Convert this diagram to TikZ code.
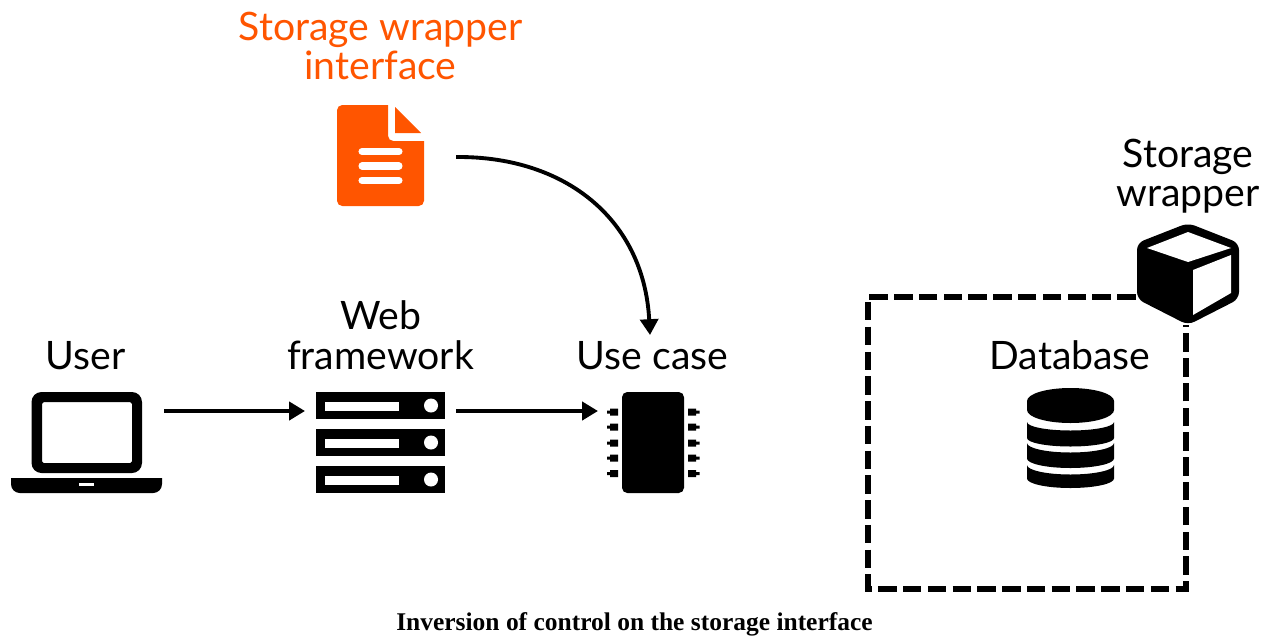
\documentclass[tikz,border=0pt]{standalone}
\usepackage{fontspec}
\setmainfont{Lato}
\newfontfamily\captionfont{Liberation Serif}
\usetikzlibrary{positioning,arrows.meta,calc}
\definecolor{docorange}{HTML}{FF5500}

\begin{document}
\begin{tikzpicture}[
    x=0.02cm, y=-0.02cm,
    label/.style={align=center, inner sep=0pt, font=\fontsize{22.3pt}{22.5pt}\selectfont},
    icon/.style={inner sep=0pt, outer sep=0pt},
    flow/.style={line width=2.2pt, -{Triangle[length=9pt,width=10.2pt]}},
    boundary/.style={line width=3.9pt, miter limit=10, dash pattern=on 10.5pt off 3.6pt, dash phase=12.7pt},
    rackbar/.style={icon, fill=black, minimum width=129*0.02cm, minimum height=27*0.02cm},
]
\useasboundingbox (0,0) rectangle (1270,636);

% dashed box round the database
\coordinate (boxstart) at (1138,297);
\coordinate (boxnw) at (868,297);
\coordinate (boxsw) at (868,589);
\coordinate (boxse) at (1186,589);
\coordinate (boxend) at (1186,325);
\draw[boundary] (boxstart) -- (boxnw) -- (boxsw) -- (boxse) -- (boxend);

% laptop
\node[icon, minimum width=151*0.02cm, minimum height=101*0.02cm] (laptop) at (86.5,442.5) {};
\fill[even odd rule] [rounded corners=5.7pt] (31.5,392) rectangle (142,473)
    [rounded corners=1pt] (42,402) rectangle (132,463);
\fill (11,478) -- (162,478) -- (162,484) [rounded corners=5pt] -- (162,493) -- (11,493) [sharp corners] -- (11,478) -- cycle;
\fill[white] (79,483) rectangle (94,486);

% server rack
\node[rackbar] (rack1) at (380.5,405.5) {};
\node[rackbar] (rack2) at (380.5,442.5) {};
\node[rackbar] (rack3) at (380.5,479.5) {};
\foreach \r in {rack1,rack2,rack3} {
    \fill[white] ($(\r.west)+(9,-4)$) rectangle ($(\r.west)+(83,5.5)$);
    \fill[white] ($(\r.east)+(-14,0)$) circle (7*0.02cm);
}

% chip
\node[icon, fill=black, rounded corners=3pt, minimum width=62*0.02cm, minimum height=101*0.02cm] (chip) at (653,442.5) {};
\foreach \y in {412,427,443,458,473.5} {
    \fill (618,\y-3.5) -- (610,\y-3.5) -- (610,\y-1.5) -- (607,\y-1.5) -- (607,\y+1.5) -- (610,\y+1.5) -- (610,\y+3.5) -- (618,\y+3.5) -- cycle;
    \fill (688,\y-3.5) -- (696,\y-3.5) -- (696,\y-1.5) -- (699.5,\y-1.5) -- (699.5,\y+1.5) -- (696,\y+1.5) -- (696,\y+3.5) -- (688,\y+3.5) -- cycle;
}

% document
\node[icon, minimum width=87*0.02cm, minimum height=101*0.02cm] (doc) at (380.5,155.5) {};
\fill[docorange] [rounded corners=3pt] (337,105) [sharp corners] -- (388,105) [rounded corners=3pt] -- (388,141) [sharp corners] -- (424,141) [rounded corners=3pt] -- (424,206) -- (337,206) -- cycle;
\fill[docorange] (395,107) -- (421,133) -- (395,133) -- cycle;
\foreach \y in {151.5,166,180.5}
    \draw[white, line width=4pt, line cap=round] (362,\y) -- (399,\y);

% cube
\node[icon, minimum width=100*0.02cm, minimum height=100*0.02cm] (cube) at (1188,274) {};
\fill[rounded corners=4pt] (1188,223) -- (1239,243) -- (1239,299) -- (1188,325) -- (1137,299) -- (1137,243) -- cycle;
\fill[white] (1147,248) -- (1188,232) -- (1231,248) -- (1188,262) -- cycle;
\fill[white] (1193,270) -- (1231,255) -- (1231,293) -- (1193,315) -- cycle;

% database
\node[icon, minimum width=87*0.02cm, minimum height=102*0.02cm] (db) at (1070.5,438) {};
\foreach \t/\b/\d in {422/438/8.5,443/458.5/9.5,465/478.5/9.5} {
    \fill (1027,\t) -- (1027,\b) arc[start angle=180, end angle=0, x radius=43.5, y radius=\d] -- (1114,\t) arc[start angle=0, end angle=180, x radius=43.5, y radius=\d] -- cycle;
}
\fill (1027,401) -- (1027,410) arc[start angle=180, end angle=0, x radius=43.5, y radius=13] -- (1114,401) arc[start angle=0, end angle=-180, x radius=43.5, y radius=13] -- cycle;

% labels
\node[label, text=docorange, anchor=south] (doclabel) at (380.5,80.5) {Storage wrapper\\interface};
\node[label, anchor=south] (userlabel) at (85.5,370) {User};
\node[label, anchor=south] (weblabel) at (380.5,370) {Web\\framework};
\node[label, anchor=south] (caselabel) at (652.5,370) {Use case};
\node[label, anchor=south] (dblabel) at (1070,370) {Database};
\node[label, anchor=south] (cubelabel) at (1188,214) {Storage\\wrapper};
\node[inner sep=0pt, font=\captionfont\bfseries\fontsize{14.5pt}{14.5pt}\selectfont] (caption) at (634.5,624) {Inversion of control on the storage interface};

% connectors
\coordinate (laptopout) at (164,411);
\coordinate (rackin) at (305,411);
\coordinate (rackout) at (456,411);
\coordinate (chipin) at (598,411);
\coordinate (docout) at (456,157);
\coordinate (casein) at (650,335);
\draw[flow] (laptopout) -- (rackin);
\draw[flow] (rackout) -- (chipin);
\draw[flow] (docout) .. controls (566,156) and (644,220) .. (casein);
\end{tikzpicture}
\end{document}
